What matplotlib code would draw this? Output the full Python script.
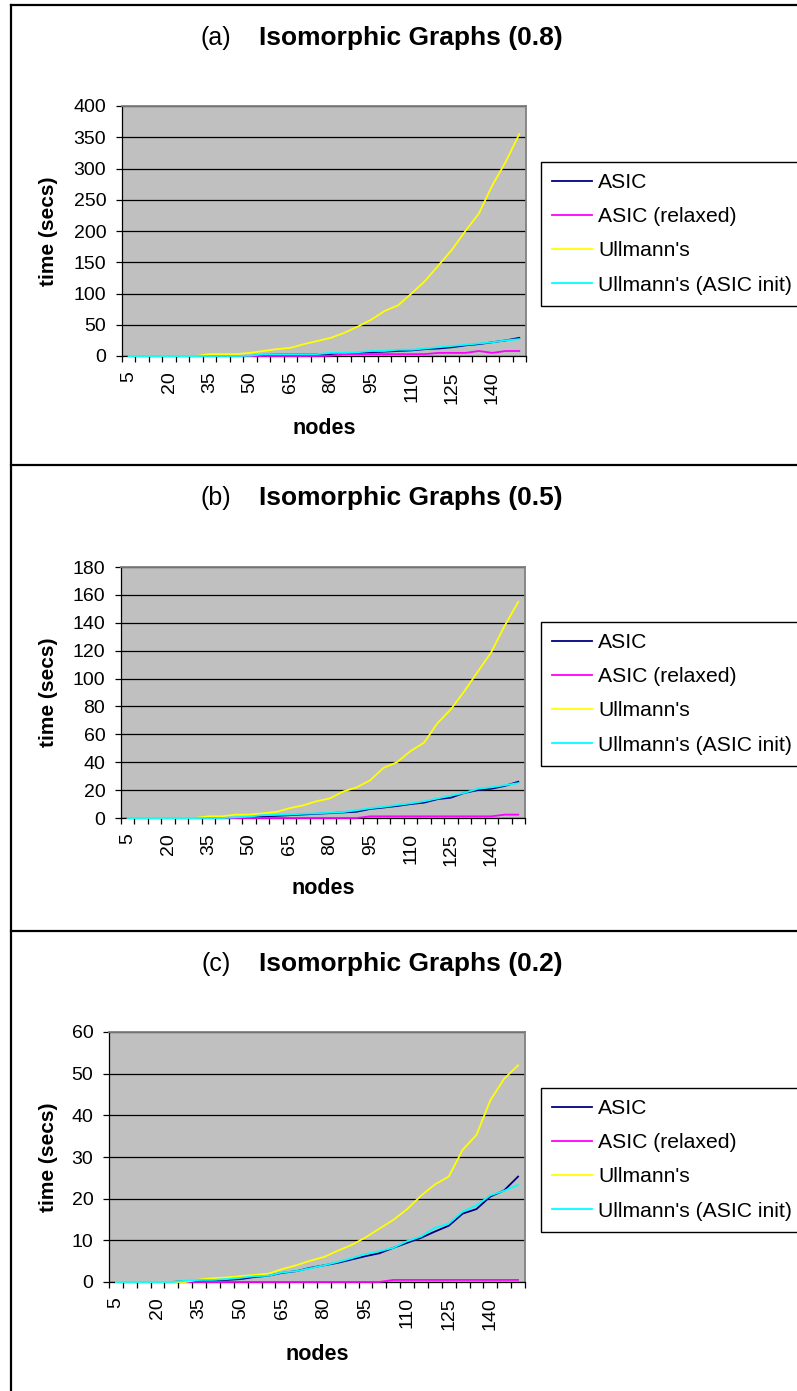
import matplotlib
matplotlib.use("Agg")
import matplotlib.pyplot as plt
from matplotlib.lines import Line2D

plt.rcParams['font.family'] = ['Liberation Sans', 'DejaVu Sans']

# ---- data -------------------------------------------------------------
nodes = [5, 10, 15, 20, 25, 30, 35, 40, 45, 50, 55, 60, 65, 70, 75,
         80, 85, 90, 95, 100, 105, 110, 115, 120, 125, 130, 135, 140, 145, 150]
tick_labels = ["5", "20", "35", "50", "65", "80", "95", "110", "125", "140"]
series_names = ["ASIC", "ASIC (relaxed)", "Ullmann's", "Ullmann's (ASIC init)"]
series_colors = ["#000080", "#FF00FF", "#FFFF00", "#00FFFF"]

# (a) density 0.8
asic_a = [0, 0, 0, 0, 0, 0, 0, 0, 0, 0, 2, 3, 3, 3, 3, 3, 4, 5, 6, 7,
          8, 9, 11, 12, 14, 17, 19, 22, 25, 29]
relaxed_a = [0, 0, 0, 0, 0, 0, 0, 0, 0, 0, 0, 0, 0, 0, 0, 0.5, 3, 3, 3, 3,
             3, 3, 3, 5, 5, 5, 8, 5, 8, 8]
ullmann_a = [0, 0, 0, 0, 0, 0, 3, 3, 3, 5, 8, 11, 13, 19, 24, 29, 37, 47, 58, 72,
             81, 100, 120, 145, 170, 200, 228, 273, 311, 355]
init_a = [0, 0, 0, 0, 0, 0, 0, 0, 0, 0.5, 3, 3, 3, 3, 3, 5, 5, 6, 8, 8,
          10, 10, 12, 14, 16, 18, 20, 22, 25, 27]

# (b) density 0.5
asic_b = [0, 0, 0, 0, 0, 0, 0, 0, 0, 0.5, 1, 1.5, 2, 2.5, 3, 3.5, 4, 4.5, 6.5, 7.5,
          8.6, 10, 11, 13.5, 14.6, 18, 20, 21, 23, 26]
relaxed_b = [0, 0, 0, 0, 0, 0, 0, 0, 0, 0, 0, 0, 0, 0, 0, 0, 0, 0, 1.2, 1.2,
             1.2, 1.2, 1.2, 1.2, 1.2, 1.2, 1.2, 1.2, 2.4, 2.4]
ullmann_b = [0, 0, 0, 0, 0, 0, 1.2, 1.2, 2.4, 2.4, 3.3, 4.3, 7, 9, 12, 14, 19, 22, 27, 36,
             40, 48, 54, 68, 78, 91, 105, 119, 138, 155]
init_b = [0, 0, 0, 0, 0, 0, 0, 0, 0.5, 1, 2, 2.2, 2.5, 3, 3.3, 3.8, 4.3, 5.5, 7, 8,
          9.3, 10.5, 12, 14, 16, 18, 21, 22, 23.5, 25]

# (c) density 0.2
asic_c = [0, 0, 0, 0, 0, 0.2, 0.3, 0.4, 0.5, 0.7, 1.2, 1.5, 2.2, 2.6, 3.4, 4.0, 4.6, 5.4, 6.2, 6.9,
          8.2, 9.4, 10.6, 12.1, 13.5, 16.4, 17.5, 20.5, 22.0, 25.3]
relaxed_c = [0, 0, 0, 0, 0, 0, 0, 0, 0, 0, 0, 0, 0, 0, 0, 0, 0, 0, 0, 0,
             0.5, 0.5, 0.5, 0.5, 0.5, 0.5, 0.5, 0.5, 0.5, 0.5]
ullmann_c = [0, 0, 0, 0, 0, 0, 0.6, 0.9, 1.1, 1.4, 1.7, 2.0, 3.1, 4.0, 5.1, 6.0, 7.5, 8.9, 10.7, 12.8,
             14.9, 17.5, 20.7, 23.4, 25.3, 31.7, 35.3, 43.6, 48.8, 52]
init_c = [0, 0, 0, 0, 0, 0.3, 0.5, 0.5, 0.7, 1.0, 1.4, 1.5, 2.3, 2.6, 3.3, 4.0, 4.8, 5.7, 6.7, 7.4,
          8.2, 9.8, 10.9, 13.0, 14.0, 16.9, 18.4, 20.8, 21.9, 23.3]

panels = [
    dict(tag="(a)", title="Isomorphic Graphs (0.8)", series=[asic_a, relaxed_a, ullmann_a, init_a],
         ymax=400, ystep=50, box=(122, 106, 526, 356), top=5),
    dict(tag="(b)", title="Isomorphic Graphs (0.5)", series=[asic_b, relaxed_b, ullmann_b, init_b],
         ymax=180, ystep=20, box=(121, 567, 525, 818), top=465),
    dict(tag="(c)", title="Isomorphic Graphs (0.2)", series=[asic_c, relaxed_c, ullmann_c, init_c],
         ymax=60, ystep=10, box=(109, 1032, 525, 1282), top=931),
]

# ---- figure -----------------------------------------------------------
W, H = 797, 1391
fig = plt.figure(figsize=(W / 100, H / 100), dpi=100)
fig.patch.set_facecolor("white")


def fx(px):
    return px / W


def fy(py):
    return 1 - py / H


for p in panels:
    l, t, r, b = p["box"]
    ax = fig.add_axes([fx(l), fy(b), (r - l) / W, (b - t) / H])
    ax.set_facecolor("#C0C0C0")
    idx = list(range(len(nodes)))
    for vals, name, col in zip(p["series"], series_names, series_colors):
        ax.plot(idx, vals, color=col, lw=1.3, label=name, solid_joinstyle="round",
                clip_on=False, zorder=3)

    ax.set_xlim(-0.5, len(nodes) - 0.5)
    ax.set_ylim(0, p["ymax"])
    yt = list(range(0, p["ymax"] + 1, p["ystep"]))
    ax.set_yticks(yt)
    ax.set_yticklabels([str(v) for v in yt])
    ax.yaxis.grid(True, color="black", lw=0.9)
    ax.set_axisbelow(True)

    # category boundaries carry the tick marks, labels sit on every third category
    ax.set_xticks([i - 0.5 for i in range(len(nodes) + 1)])
    ax.set_xticklabels([])
    lab_pos = [nodes.index(int(s)) for s in tick_labels]
    ax.set_xticks(lab_pos, minor=True)
    ax.set_xticklabels(tick_labels, minor=True, rotation=90, fontsize=14)
    ax.tick_params(axis="x", which="major", direction="out", length=4.3, width=0.9)
    ax.tick_params(axis="x", which="minor", length=0, pad=11)
    ax.tick_params(axis="y", direction="out", length=4.3, width=0.9, labelsize=14, pad=7)

    for s in ("top", "right"):
        ax.spines[s].set_color("#808080")
        ax.spines[s].set_linewidth(1.3)
    for s in ("left", "bottom"):
        ax.spines[s].set_color("black")
        ax.spines[s].set_linewidth(0.9)
        ax.spines[s].set_zorder(2.5)

    top = p["top"]
    fig.text(fx(216), fy(top + 33), p["tag"], fontsize=18, ha="center", va="center")
    fig.text(fx(259), fy(top + 33), p["title"], fontsize=19, fontweight="bold",
             ha="left", va="center")
    fig.text(fx(48), fy((t + b) / 2), "time (secs)", rotation=90, fontsize=15,
             fontweight="bold", ha="center", va="center")
    fig.text(fx((l + r) / 2), fy(top + 424), "nodes", fontsize=15.5, fontweight="bold",
             ha="center", va="center")

    leg = ax.legend(loc="upper left", bbox_to_anchor=(fx(541), fy(top + 157)),
                    bbox_transform=fig.transFigure, fontsize=15.2, frameon=True,
                    fancybox=False, edgecolor="black", facecolor="white", framealpha=1,
                    handlelength=1.9, handletextpad=0.3, labelspacing=0.72,
                    borderpad=0.52, borderaxespad=0)
    leg.get_frame().set_linewidth(1.0)
    leg.set_zorder(5)

# panel frames
frame_kw = dict(transform=fig.transFigure, color="black", lw=1.6)
fig.add_artist(Line2D([fx(11), fx(11)], [fy(5), fy(H)], **frame_kw))
for yy in (5, 465, 931):
    fig.add_artist(Line2D([fx(11), 1], [fy(yy), fy(yy)], **frame_kw))

fig.savefig("out.png", dpi=100, facecolor="white")
